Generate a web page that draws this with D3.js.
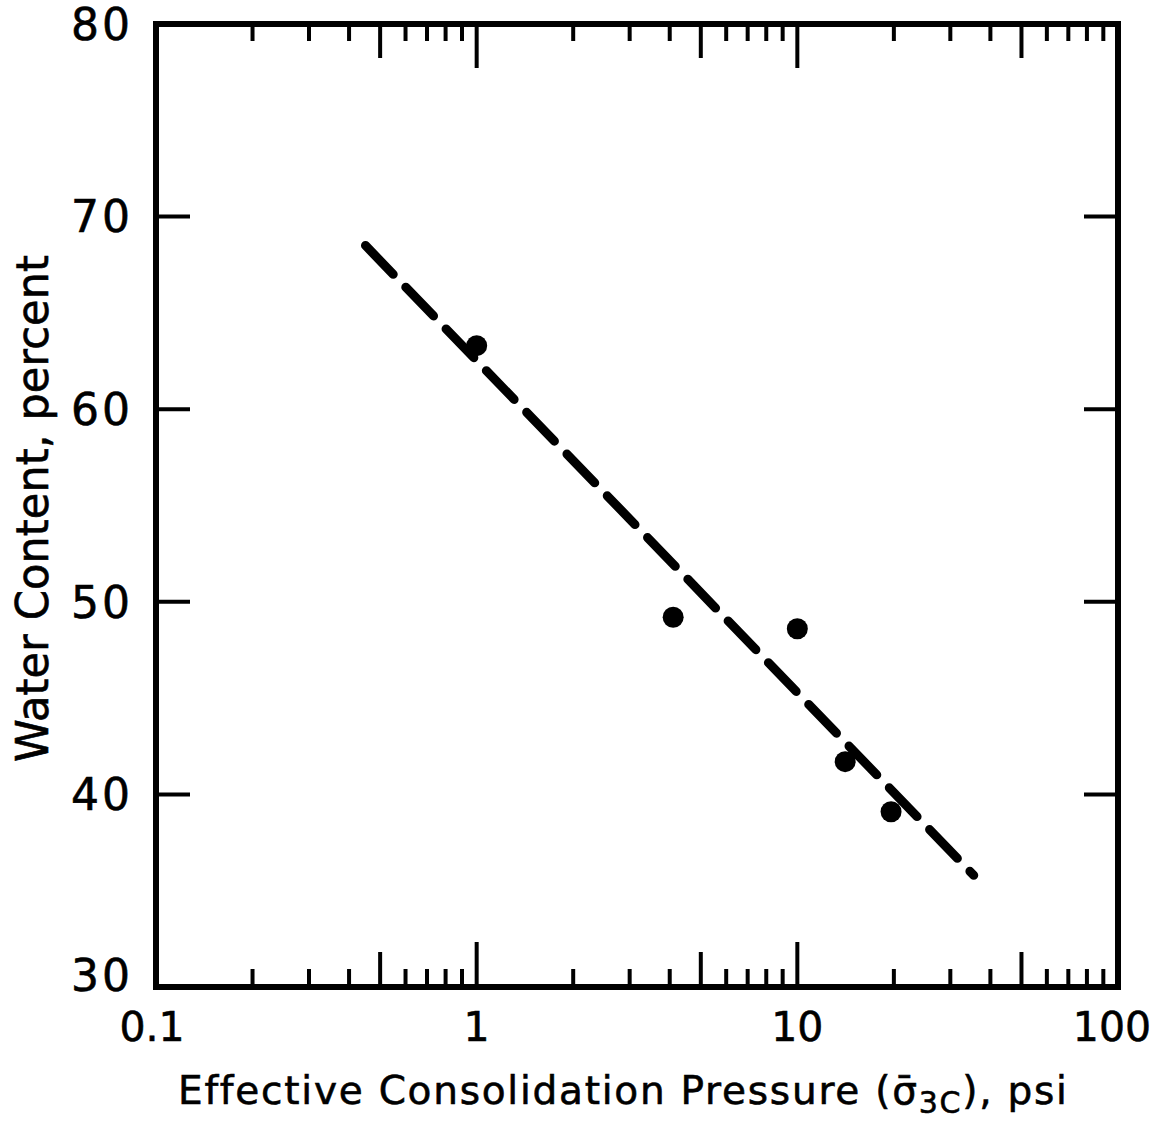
<!DOCTYPE html>
<html>
<head>
<meta charset="utf-8">
<script src="https://cdn.jsdelivr.net/npm/d3@7"></script>
<style>
  body { margin: 0; background: #fff; }
  text { font-family: "DejaVu Sans", sans-serif; fill: #000; stroke: #000; stroke-width: 0.6px; }
</style>
</head>
<body>
<div id="chart"></div>
<script>
'use strict'

// Data.
const pressure = [1.0, 4.1, 10.0, 14.1, 19.6];     // psi
const water = [63.3, 49.2, 48.6, 41.7, 39.1];      // percent
const trendPressure = [0.45, 35.5];
const trendWater = [68.5, 35.8];
const xTickValues = [0.1, 1, 10, 100];
const xTickLabels = ['0.1', '1', '10', '100'];
const yTickValues = [30, 40, 50, 60, 70, 80];
const yTickLabels = ['30', '40', '50', '60', '70', '80'];

const width = 1160, height = 1122;
const frame = {left: 156, right: 1118, top: 24, bottom: 987};

const svg = d3.select('#chart')
    .append('svg')
    .attr('width', width)
    .attr('height', height);

const x = d3.scaleLog().domain([0.1, 100]).range([frame.left, frame.right]);
const y = d3.scaleLinear().domain([30, 80]).range([frame.bottom, frame.top]);

// Tick length by leading digit: decades long, fives medium, rest short.
function tickLen(v) {
    const lead = Math.round(v / Math.pow(10, Math.floor(Math.log10(v) + 1e-9)));
    if (lead === 1) return 45;
    if (lead === 5) return 35;
    return 18;
}

const minor = x.ticks().filter(v => v > 0.1 && v < 100);

// bottom ticks (pointing up)
svg.append('g')
    .selectAll('line')
    .data(minor)
    .join('line')
    .attr('x1', d => x(d)).attr('x2', d => x(d))
    .attr('y1', frame.bottom).attr('y2', d => frame.bottom - tickLen(d))
    .attr('stroke', '#000').attr('stroke-width', 4);

// top ticks (pointing down)
svg.append('g')
    .selectAll('line')
    .data(minor)
    .join('line')
    .attr('x1', d => x(d)).attr('x2', d => x(d))
    .attr('y1', frame.top).attr('y2', d => frame.top + tickLen(d) - 1)
    .attr('stroke', '#000').attr('stroke-width', 4);

// side ticks
const inner = yTickValues.filter(v => v > 30 && v < 80);
svg.append('g')
    .selectAll('line')
    .data(inner)
    .join('line')
    .attr('x1', frame.left).attr('x2', frame.left + 34)
    .attr('y1', d => y(d)).attr('y2', d => y(d))
    .attr('stroke', '#000').attr('stroke-width', 4);
svg.append('g')
    .selectAll('line')
    .data(inner)
    .join('line')
    .attr('x1', frame.right).attr('x2', frame.right - 34)
    .attr('y1', d => y(d)).attr('y2', d => y(d))
    .attr('stroke', '#000').attr('stroke-width', 4);

// frame
svg.append('rect')
    .attr('x', frame.left).attr('y', frame.top)
    .attr('width', frame.right - frame.left).attr('height', frame.bottom - frame.top)
    .attr('fill', 'none')
    .attr('stroke', '#000')
    .attr('stroke-width', 6);

// y tick labels
svg.append('g')
    .selectAll('text')
    .data(yTickValues)
    .join('text')
    .attr('x', 133)
    .attr('y', d => y(d) + (d === 30 ? -12 : 0))
    .attr('dy', '0.36em')
    .attr('text-anchor', 'end')
    .style('font-size', '44px')
    .style('letter-spacing', '3px')
    .text((d, i) => yTickLabels[i]);

// x tick labels
svg.append('g')
    .selectAll('text')
    .data(xTickValues)
    .join('text')
    .attr('x', (d, i) => x(d) + (i === 0 ? -4 : i === 3 ? -6 : 0))
    .attr('y', 1041)
    .attr('text-anchor', 'middle')
    .style('font-size', '41px')
    .text((d, i) => xTickLabels[i]);

// dashed trend line
const line = d3.line()
    .x((d, i) => x(trendPressure[i]))
    .y((d, i) => y(trendWater[i]));

svg.append('path')
    .datum(trendPressure)
    .attr('d', line)
    .attr('fill', 'none')
    .attr('stroke', '#000')
    .attr('stroke-width', 9)
    .attr('stroke-linecap', 'round')
    .attr('stroke-dasharray', '40,18');

// data points
svg.append('g')
    .selectAll('circle')
    .data(pressure)
    .join('circle')
    .attr('cx', d => x(d))
    .attr('cy', (d, i) => y(water[i]))
    .attr('r', 10.5)
    .attr('fill', '#000');

// x axis title
const xTitle = svg.append('text')
    .attr('x', 178)
    .attr('y', 1104)
    .style('font-size', '39px');
xTitle.append('tspan').text('Effective Consolidation Pressure (\u03C3\u0304');
xTitle.append('tspan').attr('dy', 9).style('font-size', '30px').text('3C');
xTitle.append('tspan').attr('dy', -9).text('), psi');
{
    const natural = xTitle.node().getComputedTextLength();
    const n = 'Effective Consolidation Pressure (\u03C3\u03043C), psi'.length;
    xTitle.style('letter-spacing', ((1068 - 178 - natural) / (n - 1)) + 'px');
}

// y axis title
svg.append('text')
    .attr('transform', 'translate(48,762) rotate(-90)')
    .attr('textLength', 507)
    .attr('lengthAdjust', 'spacingAndGlyphs')
    .style('font-size', '45px')
    .text('Water Content, percent');
</script>
</body>
</html>
